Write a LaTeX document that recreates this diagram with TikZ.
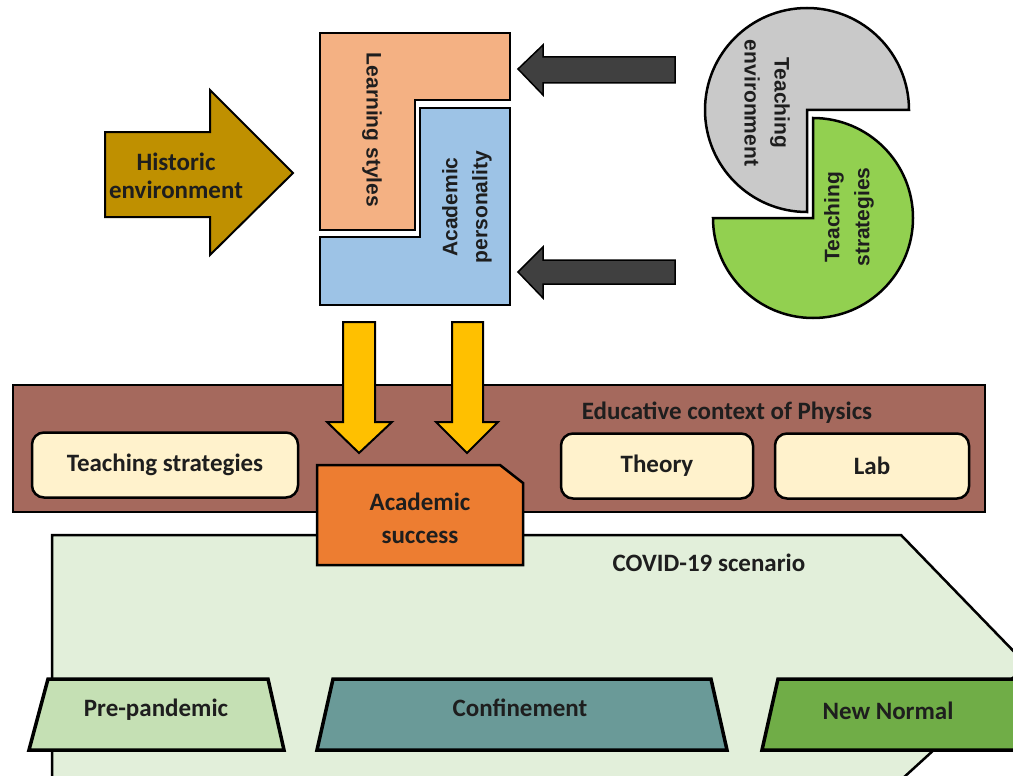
\documentclass[tikz,border=0pt]{standalone}
\usepackage{fontspec}
\setmainfont{Carlito}
\newfontfamily\arialfont{Liberation Sans}
\usetikzlibrary{positioning}

\definecolor{stylesorange}{HTML}{F4B183}
\definecolor{personblue}{HTML}{9DC3E6}
\definecolor{envgray}{HTML}{C9C9C9}
\definecolor{stratgreen}{HTML}{92D050}
\definecolor{historicgold}{HTML}{BF9000}
\definecolor{darkarrow}{HTML}{404040}
\definecolor{flowyellow}{HTML}{FFC000}
\definecolor{contextbrown}{HTML}{A5695D}
\definecolor{creambox}{HTML}{FFF2CC}
\definecolor{successorange}{HTML}{ED7D31}
\definecolor{covidgreen}{HTML}{E2EFDA}
\definecolor{prepandemic}{HTML}{C5E0B4}
\definecolor{confinement}{HTML}{6A9A98}
\definecolor{newnormal}{HTML}{70AD47}
\definecolor{labeltext}{HTML}{1E1E1E}

\tikzset{
  block/.style={draw=black, line width=2.5pt, line join=miter},
  phase/.style={draw=black, line width=3.5pt, line join=miter},
  hlabel/.style={font=\bfseries\fontsize{25}{33}\selectfont, text=labeltext, align=center},
  vlabel/.style={font=\arialfont\bfseries\fontsize{21}{30}\selectfont, text=labeltext, align=center},
  creamnode/.style={block, fill=creambox, rounded corners=12pt, minimum height=65pt}
}

\begin{document}
\begin{tikzpicture}[x=1pt, y=-1pt]
\useasboundingbox (0,0) rectangle (1013,776);
\clip (0,0) rectangle (1013,776);

% covid scenario
\path[block, fill=covidgreen] (52,800) -- (52,535) -- (901,535) -- (1027,665) -- (879,800);
\path[phase, fill=prepandemic] (48,679) -- (268,679) -- (284,750) -- (29,750) -- cycle;
\path[phase, fill=confinement] (333,679) -- (711,679) -- (727,750) -- (317,750) -- cycle;
\path[phase, fill=newnormal] (778,679) -- (1030,679) -- (1046,750) -- (762,750) -- cycle;
\node[hlabel] (covid) at (709,563) {COVID-19 scenario};
\node[hlabel] (pre) at (156,710) {Pre-pandemic};
\node[hlabel] (conf) at (520,708) {Confinement};
\node[hlabel] (newn) at (888,711) {New Normal};

% educative context
\path[block, fill=contextbrown] (13,385) rectangle (985,512);
\node[hlabel] (context) at (727,413) {Educative context of Physics};
\node[creamnode, hlabel, minimum width=266pt] (tstrat) at (165,465) {Teaching strategies};
\node[creamnode, hlabel, minimum width=192pt] (theory) at (657,466) {Theory};
\node[creamnode, hlabel, minimum width=194pt] (lab) at (872,466) {Lab};

% flow arrows
\path[block, line width=2pt, fill=flowyellow] (343,322) -- (375,322) -- (375,422) -- (392,422) -- (359,453) -- (327,422) -- (343,422) -- cycle;
\path[block, line width=2pt, fill=flowyellow] (452,322) -- (483,322) -- (483,422) -- (498,422) -- (467,453) -- (436,422) -- (452,422) -- cycle;

% academic success
\path[block, fill=successorange] (317,465) -- (500,465) -- (523,483) -- (523,565) -- (317,565) -- cycle;
\node[hlabel] (success) at (420,518) {Academic\\success};

% student side
\path[block, fill=stylesorange] (320,33) -- (510,33) -- (510,100) -- (415,100) -- (415,230) -- (320,230) -- cycle;
\path[block, fill=personblue] (420,108) -- (510,108) -- (510,305) -- (320,305) -- (320,237) -- (420,237) -- cycle;
\node[vlabel, rotate=-90] (styles) at (372,130) {Learning styles};
\node[vlabel, rotate=90] (personality) at (467,207) {Academic\\personality};

% historic environment
\path[block, line width=2pt, fill=historicgold] (105,132) -- (210,132) -- (210,90) -- (293,173) -- (210,255) -- (210,217) -- (105,217) -- cycle;
\node[hlabel, font=\bfseries\fontsize{25}{28}\selectfont] (historic) at (176,176) {Historic\\environment};

% teaching side
\path[block, fill=envgray] (807,110) -- (909,110) arc[start angle=0, end angle=270, radius=102pt] -- cycle;
\path[block, fill=stratgreen] (813,218) -- (813,118) arc[start angle=90, end angle=-180, radius=100pt] -- cycle;
\node[vlabel, rotate=-90] (environment) at (767,103) {Teaching\\environment};
\node[vlabel, rotate=90] (strategies) at (849,217) {Teaching\\strategies};

\path[block, line width=1.5pt, fill=darkarrow] (675,57) -- (543,57) -- (543,45) -- (518,69) -- (543,95) -- (543,83) -- (675,83) -- cycle;
\path[block, line width=1.5pt, fill=darkarrow] (675,260) -- (543,260) -- (543,247) -- (518,272) -- (543,298) -- (543,284) -- (675,284) -- cycle;
\end{tikzpicture}
\end{document}
